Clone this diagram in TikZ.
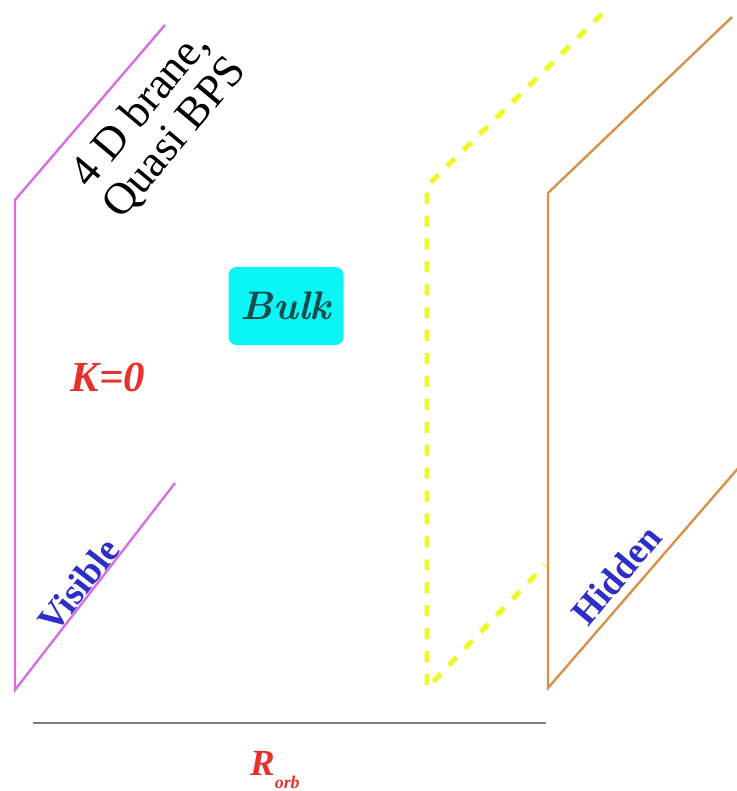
\documentclass[tikz,border=0pt]{standalone}
\usepackage{fontspec}
\setmainfont{Liberation Serif}
\newfontfamily\bulkfont{Latin Modern Roman}
\usetikzlibrary{arrows.meta}

\definecolor{branemag}{RGB}{215,110,225}
\definecolor{braneorg}{RGB}{215,145,75}
\definecolor{braneyel}{RGB}{238,248,40}
\definecolor{bulkcyan}{RGB}{10,245,245}
\definecolor{bulktext}{RGB}{20,75,75}
\definecolor{labblue}{RGB}{45,45,200}
\definecolor{labred}{RGB}{230,50,45}

\tikzset{
  brane/.style={line width=2.4pt},
  bralabel/.style={text=labblue,font=\fontsize{37}{40}\selectfont\bfseries}
}

\begin{document}
\begin{tikzpicture}[x=1bp,y=-1bp]
  \useasboundingbox (0,0) rectangle (737,791);
  % brane corners
  \coordinate (vt) at (15,200);  \coordinate (vb) at (15,690);
  \coordinate (vtt) at (165,25); \coordinate (vbb) at (175,483);
  \coordinate (dt) at (427,186); \coordinate (db) at (427,688);
  \coordinate (dtt) at (602,14); \coordinate (dbb) at (545,565);
  \coordinate (ht) at (548,193); \coordinate (hb) at (548,688);
  \coordinate (htt) at (732,17); \coordinate (hbb) at (740,466);
  \coordinate (ra) at (33,723);  \coordinate (rb) at (546,723);
  % branes
  \draw[brane,branemag] (vtt) -- (vt) -- (vb) -- (vbb);
  \draw[braneyel,line width=5pt,dash pattern=on 11pt off 12pt] (dtt) -- (dt) -- (db) -- (dbb);
  \draw[brane,braneorg] (htt) -- (ht) -- (hb) -- (hbb);
  \draw[gray,line width=2.2pt] (ra) -- (rb);
  % labels
  \node[rotate=50,align=center,font=\fontsize{45}{45}\selectfont] (brane) at (158,124) {4 D brane,\\Quasi BPS};
  \node[fill=bulkcyan,rounded corners=8pt,minimum width=115bp,minimum height=78bp,text=bulktext,font=\bulkfont\fontsize{40}{44}\selectfont\bfseries\itshape] (bulk) at (286,306) {Bulk};
  \node[text=labred,font=\fontsize{43}{46}\selectfont\bfseries\itshape] (k) at (108,377) {K=0};
  \node[bralabel,rotate=52] (vis) at (79,585) {Visible};
  \node[bralabel,rotate=50] (hid) at (616,575) {Hidden};
  \node[anchor=base west,inner sep=0pt,text=labred,font=\fontsize{37}{40}\selectfont\bfseries\itshape] (rorb) at (250,775) {R\raisebox{-13bp}{\fontsize{18}{18}\selectfont orb}};
\end{tikzpicture}
\end{document}
